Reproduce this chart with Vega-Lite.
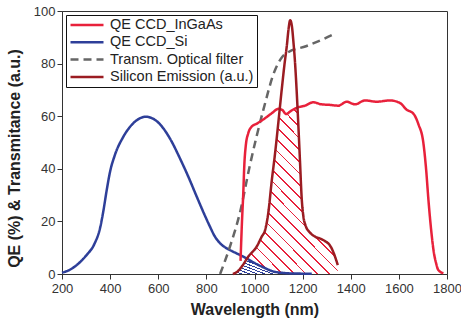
{
  "$schema": "https://vega.github.io/schema/vega-lite/v6.json",
  "width": 385,
  "height": 263,
  "autosize": {"type": "none"},
  "padding": {"left": 62, "top": 11, "right": 14, "bottom": 51},
  "datasets": {
    "curves": [
      {"s": "QE CCD_Si", "x": 200, "y": 0.5}, {"s": "QE CCD_Si", "x": 230, "y": 1.5}, {"s": "QE CCD_Si", "x": 260, "y": 3.3}, {"s": "QE CCD_Si", "x": 300, "y": 7}, {"s": "QE CCD_Si", "x": 335, "y": 11.5}, {"s": "QE CCD_Si", "x": 358, "y": 17.4}, {"s": "QE CCD_Si", "x": 372, "y": 24}, {"s": "QE CCD_Si", "x": 386, "y": 32}, {"s": "QE CCD_Si", "x": 400, "y": 39}, {"s": "QE CCD_Si", "x": 420, "y": 45.3}, {"s": "QE CCD_Si", "x": 455, "y": 52.2}, {"s": "QE CCD_Si", "x": 496, "y": 57.3}, {"s": "QE CCD_Si", "x": 549, "y": 59.8}, {"s": "QE CCD_Si", "x": 600, "y": 57.6}, {"s": "QE CCD_Si", "x": 650, "y": 51.3}, {"s": "QE CCD_Si", "x": 690, "y": 44}, {"s": "QE CCD_Si", "x": 725, "y": 37}, {"s": "QE CCD_Si", "x": 760, "y": 29.4}, {"s": "QE CCD_Si", "x": 790, "y": 23}, {"s": "QE CCD_Si", "x": 815, "y": 18}, {"s": "QE CCD_Si", "x": 835, "y": 14.3}, {"s": "QE CCD_Si", "x": 857, "y": 11.7}, {"s": "QE CCD_Si", "x": 880, "y": 10}, {"s": "QE CCD_Si", "x": 898, "y": 9.1}, {"s": "QE CCD_Si", "x": 940, "y": 7.2}, {"s": "QE CCD_Si", "x": 970, "y": 5.8}, {"s": "QE CCD_Si", "x": 1000, "y": 4.2}, {"s": "QE CCD_Si", "x": 1040, "y": 2.4}, {"s": "QE CCD_Si", "x": 1077, "y": 1}, {"s": "QE CCD_Si", "x": 1120, "y": 0.4}, {"s": "QE CCD_Si", "x": 1160, "y": 0.2}, {"s": "QE CCD_Si", "x": 1238, "y": 0.1},
      {"s": "Transm. Optical filter", "x": 857, "y": 0}, {"s": "Transm. Optical filter", "x": 900, "y": 11}, {"s": "Transm. Optical filter", "x": 940, "y": 23.5}, {"s": "Transm. Optical filter", "x": 980, "y": 41}, {"s": "Transm. Optical filter", "x": 1037, "y": 62.5}, {"s": "Transm. Optical filter", "x": 1085, "y": 77.5}, {"s": "Transm. Optical filter", "x": 1115, "y": 82.5}, {"s": "Transm. Optical filter", "x": 1140, "y": 84.3}, {"s": "Transm. Optical filter", "x": 1214, "y": 86.6}, {"s": "Transm. Optical filter", "x": 1293, "y": 89.6}, {"s": "Transm. Optical filter", "x": 1325, "y": 91},
      {"s": "QE CCD_InGaAs", "x": 942, "y": 5}, {"s": "QE CCD_InGaAs", "x": 948, "y": 20}, {"s": "QE CCD_InGaAs", "x": 953, "y": 30}, {"s": "QE CCD_InGaAs", "x": 958, "y": 42}, {"s": "QE CCD_InGaAs", "x": 964, "y": 49}, {"s": "QE CCD_InGaAs", "x": 974, "y": 53.5}, {"s": "QE CCD_InGaAs", "x": 988, "y": 56}, {"s": "QE CCD_InGaAs", "x": 1010, "y": 57.2}, {"s": "QE CCD_InGaAs", "x": 1037, "y": 58.8}, {"s": "QE CCD_InGaAs", "x": 1070, "y": 61}, {"s": "QE CCD_InGaAs", "x": 1100, "y": 62.8}, {"s": "QE CCD_InGaAs", "x": 1115, "y": 62.4}, {"s": "QE CCD_InGaAs", "x": 1132, "y": 60.8}, {"s": "QE CCD_InGaAs", "x": 1148, "y": 61.8}, {"s": "QE CCD_InGaAs", "x": 1175, "y": 63.2}, {"s": "QE CCD_InGaAs", "x": 1210, "y": 64}, {"s": "QE CCD_InGaAs", "x": 1244, "y": 65.3}, {"s": "QE CCD_InGaAs", "x": 1279, "y": 64.5}, {"s": "QE CCD_InGaAs", "x": 1314, "y": 64.3}, {"s": "QE CCD_InGaAs", "x": 1348, "y": 64}, {"s": "QE CCD_InGaAs", "x": 1383, "y": 65.5}, {"s": "QE CCD_InGaAs", "x": 1418, "y": 64.5}, {"s": "QE CCD_InGaAs", "x": 1459, "y": 66}, {"s": "QE CCD_InGaAs", "x": 1508, "y": 65.5}, {"s": "QE CCD_InGaAs", "x": 1563, "y": 66}, {"s": "QE CCD_InGaAs", "x": 1605, "y": 65}, {"s": "QE CCD_InGaAs", "x": 1632, "y": 62.5}, {"s": "QE CCD_InGaAs", "x": 1660, "y": 61}, {"s": "QE CCD_InGaAs", "x": 1681, "y": 57}, {"s": "QE CCD_InGaAs", "x": 1702, "y": 49.7}, {"s": "QE CCD_InGaAs", "x": 1713, "y": 40}, {"s": "QE CCD_InGaAs", "x": 1723, "y": 28}, {"s": "QE CCD_InGaAs", "x": 1735, "y": 16}, {"s": "QE CCD_InGaAs", "x": 1744, "y": 9}, {"s": "QE CCD_InGaAs", "x": 1755, "y": 4}, {"s": "QE CCD_InGaAs", "x": 1764, "y": 1.5}, {"s": "QE CCD_InGaAs", "x": 1785, "y": 0.3},
      {"s": "Silicon Emission (a.u.)", "x": 910, "y": 0}, {"s": "Silicon Emission (a.u.)", "x": 930, "y": 1}, {"s": "Silicon Emission (a.u.)", "x": 947, "y": 2.8}, {"s": "Silicon Emission (a.u.)", "x": 974, "y": 6.6}, {"s": "Silicon Emission (a.u.)", "x": 1009, "y": 10.4}, {"s": "Silicon Emission (a.u.)", "x": 1030, "y": 14.2}, {"s": "Silicon Emission (a.u.)", "x": 1044, "y": 16.7}, {"s": "Silicon Emission (a.u.)", "x": 1057, "y": 23}, {"s": "Silicon Emission (a.u.)", "x": 1072, "y": 35.7}, {"s": "Silicon Emission (a.u.)", "x": 1085, "y": 45.5}, {"s": "Silicon Emission (a.u.)", "x": 1099, "y": 57.5}, {"s": "Silicon Emission (a.u.)", "x": 1113, "y": 70}, {"s": "Silicon Emission (a.u.)", "x": 1125, "y": 80}, {"s": "Silicon Emission (a.u.)", "x": 1134, "y": 86.5}, {"s": "Silicon Emission (a.u.)", "x": 1142, "y": 93.5}, {"s": "Silicon Emission (a.u.)", "x": 1148, "y": 96.5}, {"s": "Silicon Emission (a.u.)", "x": 1155, "y": 94.5}, {"s": "Silicon Emission (a.u.)", "x": 1162, "y": 88}, {"s": "Silicon Emission (a.u.)", "x": 1168, "y": 81}, {"s": "Silicon Emission (a.u.)", "x": 1175, "y": 70}, {"s": "Silicon Emission (a.u.)", "x": 1182, "y": 57}, {"s": "Silicon Emission (a.u.)", "x": 1189, "y": 43}, {"s": "Silicon Emission (a.u.)", "x": 1196, "y": 29}, {"s": "Silicon Emission (a.u.)", "x": 1203, "y": 22}, {"s": "Silicon Emission (a.u.)", "x": 1212, "y": 18.5}, {"s": "Silicon Emission (a.u.)", "x": 1230, "y": 15.8}, {"s": "Silicon Emission (a.u.)", "x": 1252, "y": 14.2}, {"s": "Silicon Emission (a.u.)", "x": 1275, "y": 13.4}, {"s": "Silicon Emission (a.u.)", "x": 1293, "y": 12.5}, {"s": "Silicon Emission (a.u.)", "x": 1310, "y": 11.3}, {"s": "Silicon Emission (a.u.)", "x": 1322, "y": 9.5}, {"s": "Silicon Emission (a.u.)", "x": 1335, "y": 6.5}, {"s": "Silicon Emission (a.u.)", "x": 1346, "y": 3.4}
    ],
    "hatchRed": [
      {"x": 969, "lo": 5.9, "hi": 5.9}, {"x": 974, "lo": 5.6, "hi": 6.6}, {"x": 1000, "lo": 4.2, "hi": 9.5}, {"x": 1009, "lo": 3.8, "hi": 10.4}, {"x": 1030, "lo": 2.8, "hi": 14.2}, {"x": 1044, "lo": 2.2, "hi": 16.7}, {"x": 1057, "lo": 1.6, "hi": 23}, {"x": 1072, "lo": 1.2, "hi": 35.7}, {"x": 1085, "lo": 0.9, "hi": 45.5}, {"x": 1099, "lo": 0.6, "hi": 57.5}, {"x": 1104, "lo": 0.55, "hi": 62.3}, {"x": 1108, "lo": 0.5, "hi": 62.6}, {"x": 1115, "lo": 0.45, "hi": 62.4}, {"x": 1132, "lo": 0.35, "hi": 60.8}, {"x": 1148, "lo": 0.25, "hi": 61.8}, {"x": 1160, "lo": 0.2, "hi": 62.6}, {"x": 1175, "lo": 0.18, "hi": 63.2}, {"x": 1178, "lo": 0.17, "hi": 63.3}, {"x": 1180, "lo": 0.16, "hi": 60.7}, {"x": 1182, "lo": 0.15, "hi": 57}, {"x": 1189, "lo": 0.13, "hi": 43}, {"x": 1196, "lo": 0.12, "hi": 29}, {"x": 1203, "lo": 0.11, "hi": 22}, {"x": 1212, "lo": 0.1, "hi": 18.5}, {"x": 1230, "lo": 0.1, "hi": 15.8}, {"x": 1252, "lo": 0, "hi": 14.2}, {"x": 1275, "lo": 0, "hi": 13.4}, {"x": 1293, "lo": 0, "hi": 12.5}, {"x": 1310, "lo": 0, "hi": 11.3}, {"x": 1322, "lo": 0, "hi": 9.5}, {"x": 1335, "lo": 0, "hi": 6.5}, {"x": 1346, "lo": 0, "hi": 3.4}
    ],
    "hatchBlue": [
      {"x": 910, "lo": 0, "hi": 0}, {"x": 930, "lo": 0, "hi": 1}, {"x": 947, "lo": 0, "hi": 2.8}, {"x": 960, "lo": 0, "hi": 4.6}, {"x": 969, "lo": 0, "hi": 5.9}, {"x": 974, "lo": 0, "hi": 5.6}, {"x": 1000, "lo": 0, "hi": 4.2}, {"x": 1040, "lo": 0, "hi": 2.4}, {"x": 1077, "lo": 0, "hi": 1}, {"x": 1120, "lo": 0, "hi": 0.4}, {"x": 1160, "lo": 0, "hi": 0.2}
    ]
  },
  "layer": [
    {
      "data": {"name": "hatchRed"},
      "mark": {
        "type": "area",
        "fill": {
          "gradient": "linear", "x1": 0, "y1": 1, "x2": 0.654, "y2": -0.19,
          "stops": [
            {"offset": 0, "color": "rgba(232,33,59,0)"}, {"offset": 0, "color": "#e8213b"}, {"offset": 0.0068, "color": "#e8213b"}, {"offset": 0.0068, "color": "rgba(232,33,59,0)"},
            {"offset": 0.04545, "color": "rgba(232,33,59,0)"}, {"offset": 0.04545, "color": "#e8213b"}, {"offset": 0.0523, "color": "#e8213b"}, {"offset": 0.0523, "color": "rgba(232,33,59,0)"},
            {"offset": 0.09091, "color": "rgba(232,33,59,0)"}, {"offset": 0.09091, "color": "#e8213b"}, {"offset": 0.0977, "color": "#e8213b"}, {"offset": 0.0977, "color": "rgba(232,33,59,0)"},
            {"offset": 0.13636, "color": "rgba(232,33,59,0)"}, {"offset": 0.13636, "color": "#e8213b"}, {"offset": 0.1432, "color": "#e8213b"}, {"offset": 0.1432, "color": "rgba(232,33,59,0)"},
            {"offset": 0.18182, "color": "rgba(232,33,59,0)"}, {"offset": 0.18182, "color": "#e8213b"}, {"offset": 0.1886, "color": "#e8213b"}, {"offset": 0.1886, "color": "rgba(232,33,59,0)"},
            {"offset": 0.22727, "color": "rgba(232,33,59,0)"}, {"offset": 0.22727, "color": "#e8213b"}, {"offset": 0.2341, "color": "#e8213b"}, {"offset": 0.2341, "color": "rgba(232,33,59,0)"},
            {"offset": 0.27273, "color": "rgba(232,33,59,0)"}, {"offset": 0.27273, "color": "#e8213b"}, {"offset": 0.2795, "color": "#e8213b"}, {"offset": 0.2795, "color": "rgba(232,33,59,0)"},
            {"offset": 0.31818, "color": "rgba(232,33,59,0)"}, {"offset": 0.31818, "color": "#e8213b"}, {"offset": 0.325, "color": "#e8213b"}, {"offset": 0.325, "color": "rgba(232,33,59,0)"},
            {"offset": 0.36364, "color": "rgba(232,33,59,0)"}, {"offset": 0.36364, "color": "#e8213b"}, {"offset": 0.3704, "color": "#e8213b"}, {"offset": 0.3704, "color": "rgba(232,33,59,0)"},
            {"offset": 0.40909, "color": "rgba(232,33,59,0)"}, {"offset": 0.40909, "color": "#e8213b"}, {"offset": 0.4159, "color": "#e8213b"}, {"offset": 0.4159, "color": "rgba(232,33,59,0)"},
            {"offset": 0.45455, "color": "rgba(232,33,59,0)"}, {"offset": 0.45455, "color": "#e8213b"}, {"offset": 0.4614, "color": "#e8213b"}, {"offset": 0.4614, "color": "rgba(232,33,59,0)"},
            {"offset": 0.5, "color": "rgba(232,33,59,0)"}, {"offset": 0.5, "color": "#e8213b"}, {"offset": 0.5068, "color": "#e8213b"}, {"offset": 0.5068, "color": "rgba(232,33,59,0)"},
            {"offset": 0.54545, "color": "rgba(232,33,59,0)"}, {"offset": 0.54545, "color": "#e8213b"}, {"offset": 0.5523, "color": "#e8213b"}, {"offset": 0.5523, "color": "rgba(232,33,59,0)"},
            {"offset": 0.59091, "color": "rgba(232,33,59,0)"}, {"offset": 0.59091, "color": "#e8213b"}, {"offset": 0.5977, "color": "#e8213b"}, {"offset": 0.5977, "color": "rgba(232,33,59,0)"},
            {"offset": 0.63636, "color": "rgba(232,33,59,0)"}, {"offset": 0.63636, "color": "#e8213b"}, {"offset": 0.6432, "color": "#e8213b"}, {"offset": 0.6432, "color": "rgba(232,33,59,0)"},
            {"offset": 0.68182, "color": "rgba(232,33,59,0)"}, {"offset": 0.68182, "color": "#e8213b"}, {"offset": 0.6886, "color": "#e8213b"}, {"offset": 0.6886, "color": "rgba(232,33,59,0)"},
            {"offset": 0.72727, "color": "rgba(232,33,59,0)"}, {"offset": 0.72727, "color": "#e8213b"}, {"offset": 0.7341, "color": "#e8213b"}, {"offset": 0.7341, "color": "rgba(232,33,59,0)"},
            {"offset": 0.77273, "color": "rgba(232,33,59,0)"}, {"offset": 0.77273, "color": "#e8213b"}, {"offset": 0.7795, "color": "#e8213b"}, {"offset": 0.7795, "color": "rgba(232,33,59,0)"},
            {"offset": 0.81818, "color": "rgba(232,33,59,0)"}, {"offset": 0.81818, "color": "#e8213b"}, {"offset": 0.825, "color": "#e8213b"}, {"offset": 0.825, "color": "rgba(232,33,59,0)"},
            {"offset": 0.86364, "color": "rgba(232,33,59,0)"}, {"offset": 0.86364, "color": "#e8213b"}, {"offset": 0.8705, "color": "#e8213b"}, {"offset": 0.8705, "color": "rgba(232,33,59,0)"},
            {"offset": 0.90909, "color": "rgba(232,33,59,0)"}, {"offset": 0.90909, "color": "#e8213b"}, {"offset": 0.9159, "color": "#e8213b"}, {"offset": 0.9159, "color": "rgba(232,33,59,0)"},
            {"offset": 0.95455, "color": "rgba(232,33,59,0)"}, {"offset": 0.95455, "color": "#e8213b"}, {"offset": 0.9614, "color": "#e8213b"}, {"offset": 0.9614, "color": "rgba(232,33,59,0)"},
            {"offset": 1, "color": "rgba(232,33,59,0)"}
          ]
        }
      },
      "encoding": {
        "x": {
          "field": "x", "type": "quantitative",
          "scale": {"domain": [200, 1800], "nice": false, "zero": false},
          "axis": {
            "values": [200, 300, 400, 500, 600, 700, 800, 900, 1000, 1100, 1200, 1300, 1400, 1500, 1600, 1700, 1800],
            "format": "d",
            "labelExpr": "datum.value % 200 == 0 ? datum.label : ''",
            "tickSize": {"condition": {"test": "datum.value % 200 == 0", "value": 5}, "value": 3},
            "labelOverlap": false, "labelFlush": false, "labelPadding": 3,
            "title": "Wavelength (nm)", "titlePadding": 6
          }
        },
        "y": {
          "field": "hi", "type": "quantitative",
          "scale": {"domain": [0, 100], "nice": false},
          "title": "QE (%) & Transmitance (a.u.)",
          "axis": {
            "values": [0, 10, 20, 30, 40, 50, 60, 70, 80, 90, 100],
            "format": "d",
            "labelExpr": "datum.value % 20 == 0 ? datum.label : ''",
            "tickSize": {"condition": {"test": "datum.value % 20 == 0", "value": 5}, "value": 3},
            "labelOverlap": false, "labelFlush": false, "labelPadding": 2,
            "title": "QE (%) & Transmitance (a.u.)",
            "titleX": -40, "titleY": 147, "titleBaseline": "bottom"
          }
        },
        "y2": {"field": "lo"}
      }
    },
    {
      "data": {"name": "hatchBlue"},
      "mark": {
        "type": "area",
        "fill": {
          "gradient": "linear", "x1": 0, "y1": 1, "x2": 1.154, "y2": 0.23,
          "stops": [
            {"offset": 0, "color": "rgba(46,63,153,0)"}, {"offset": 0, "color": "#2e3f99"}, {"offset": 0.0269, "color": "#2e3f99"}, {"offset": 0.0269, "color": "rgba(46,63,153,0)"},
            {"offset": 0.0769, "color": "rgba(46,63,153,0)"}, {"offset": 0.0769, "color": "#2e3f99"}, {"offset": 0.1038, "color": "#2e3f99"}, {"offset": 0.1038, "color": "rgba(46,63,153,0)"},
            {"offset": 0.1538, "color": "rgba(46,63,153,0)"}, {"offset": 0.1538, "color": "#2e3f99"}, {"offset": 0.1807, "color": "#2e3f99"}, {"offset": 0.1807, "color": "rgba(46,63,153,0)"},
            {"offset": 0.2308, "color": "rgba(46,63,153,0)"}, {"offset": 0.2308, "color": "#2e3f99"}, {"offset": 0.2577, "color": "#2e3f99"}, {"offset": 0.2577, "color": "rgba(46,63,153,0)"},
            {"offset": 0.3077, "color": "rgba(46,63,153,0)"}, {"offset": 0.3077, "color": "#2e3f99"}, {"offset": 0.3346, "color": "#2e3f99"}, {"offset": 0.3346, "color": "rgba(46,63,153,0)"},
            {"offset": 0.3846, "color": "rgba(46,63,153,0)"}, {"offset": 0.3846, "color": "#2e3f99"}, {"offset": 0.4115, "color": "#2e3f99"}, {"offset": 0.4115, "color": "rgba(46,63,153,0)"},
            {"offset": 0.4615, "color": "rgba(46,63,153,0)"}, {"offset": 0.4615, "color": "#2e3f99"}, {"offset": 0.4884, "color": "#2e3f99"}, {"offset": 0.4884, "color": "rgba(46,63,153,0)"},
            {"offset": 0.5385, "color": "rgba(46,63,153,0)"}, {"offset": 0.5385, "color": "#2e3f99"}, {"offset": 0.5654, "color": "#2e3f99"}, {"offset": 0.5654, "color": "rgba(46,63,153,0)"},
            {"offset": 0.6154, "color": "rgba(46,63,153,0)"}, {"offset": 0.6154, "color": "#2e3f99"}, {"offset": 0.6423, "color": "#2e3f99"}, {"offset": 0.6423, "color": "rgba(46,63,153,0)"},
            {"offset": 0.6923, "color": "rgba(46,63,153,0)"}, {"offset": 0.6923, "color": "#2e3f99"}, {"offset": 0.7192, "color": "#2e3f99"}, {"offset": 0.7192, "color": "rgba(46,63,153,0)"},
            {"offset": 0.7692, "color": "rgba(46,63,153,0)"}, {"offset": 0.7692, "color": "#2e3f99"}, {"offset": 0.7961, "color": "#2e3f99"}, {"offset": 0.7961, "color": "rgba(46,63,153,0)"},
            {"offset": 0.8462, "color": "rgba(46,63,153,0)"}, {"offset": 0.8462, "color": "#2e3f99"}, {"offset": 0.8731, "color": "#2e3f99"}, {"offset": 0.8731, "color": "rgba(46,63,153,0)"},
            {"offset": 0.9231, "color": "rgba(46,63,153,0)"}, {"offset": 0.9231, "color": "#2e3f99"}, {"offset": 0.95, "color": "#2e3f99"}, {"offset": 0.95, "color": "rgba(46,63,153,0)"},
            {"offset": 1, "color": "rgba(46,63,153,0)"}
          ]
        }
      },
      "encoding": {
        "x": {"field": "x", "type": "quantitative"},
        "y": {"field": "hi", "type": "quantitative", "title": "QE (%) & Transmitance (a.u.)"},
        "y2": {"field": "lo"}
      }
    },
    {
      "data": {"name": "curves"},
      "transform": [{"filter": "datum.s == 'QE CCD_Si'"}],
      "mark": {"type": "line", "strokeWidth": 2.5, "interpolate": "monotone"},
      "encoding": {
        "x": {"field": "x", "type": "quantitative"},
        "y": {"field": "y", "type": "quantitative", "title": "QE (%) & Transmitance (a.u.)"},
        "color": {"field": "s", "type": "nominal", "title": null, "scale": {"domain": ["QE CCD_InGaAs", "QE CCD_Si", "Transm. Optical filter", "Silicon Emission (a.u.)"], "range": ["#e8213b", "#2e3f99", "#666666", "#9b1c22"]}},
        "strokeDash": {"field": "s", "type": "nominal", "title": null, "scale": {"domain": ["QE CCD_InGaAs", "QE CCD_Si", "Transm. Optical filter", "Silicon Emission (a.u.)"], "range": [[1, 0], [1, 0], [8, 5], [1, 0]]}}
      }
    },
    {
      "data": {"name": "curves"},
      "transform": [{"filter": "datum.s == 'Transm. Optical filter'"}],
      "mark": {"type": "line", "strokeWidth": 2.5, "interpolate": "monotone"},
      "encoding": {
        "x": {"field": "x", "type": "quantitative"},
        "y": {"field": "y", "type": "quantitative", "title": "QE (%) & Transmitance (a.u.)"},
        "color": {"field": "s", "type": "nominal", "title": null},
        "strokeDash": {"field": "s", "type": "nominal", "title": null}
      }
    },
    {
      "data": {"name": "curves"},
      "transform": [{"filter": "datum.s == 'QE CCD_InGaAs'"}],
      "mark": {"type": "line", "strokeWidth": 2.5, "interpolate": "monotone"},
      "encoding": {
        "x": {"field": "x", "type": "quantitative"},
        "y": {"field": "y", "type": "quantitative", "title": "QE (%) & Transmitance (a.u.)"},
        "color": {"field": "s", "type": "nominal", "title": null},
        "strokeDash": {"field": "s", "type": "nominal", "title": null}
      }
    },
    {
      "data": {"name": "curves"},
      "transform": [{"filter": "datum.s == 'Silicon Emission (a.u.)'"}],
      "mark": {"type": "line", "strokeWidth": 2.5, "interpolate": "monotone"},
      "encoding": {
        "x": {"field": "x", "type": "quantitative"},
        "y": {"field": "y", "type": "quantitative", "title": "QE (%) & Transmitance (a.u.)"},
        "color": {"field": "s", "type": "nominal", "title": null},
        "strokeDash": {"field": "s", "type": "nominal", "title": null}
      }
    }
  ],
  "config": {
    "font": "Liberation Sans",
    "background": "white",
    "view": {"stroke": "#333", "strokeWidth": 1},
    "axis": {
      "grid": false,
      "domainColor": "#333",
      "tickColor": "#333",
      "labelColor": "#333",
      "titleColor": "#222",
      "labelFont": "Liberation Sans",
      "titleFont": "Liberation Sans",
      "labelFontSize": 13,
      "titleFontSize": 16,
      "titleFontWeight": "bold"
    },
    "legend": {
      "orient": "top-left",
      "offset": 4,
      "padding": 3,
      "strokeColor": "#111",
      "fillColor": "#ffffff",
      "labelFont": "Liberation Sans",
      "labelFontSize": 14.5,
      "labelColor": "#222",
      "labelLimit": 300,
      "symbolType": "stroke",
      "symbolSize": 1089,
      "symbolStrokeWidth": 2.5,
      "clipHeight": 14,
      "rowPadding": 2.3,
      "labelOffset": 5
    }
  }
}
